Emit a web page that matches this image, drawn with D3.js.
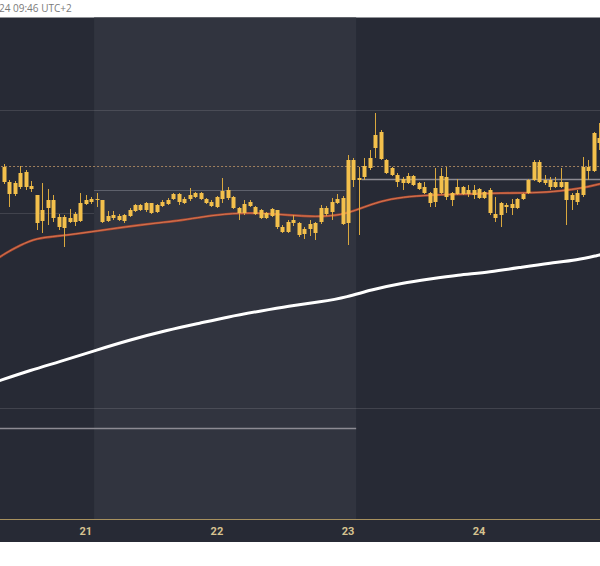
<!DOCTYPE html>
<html><head><meta charset="utf-8">
<script src="https://cdn.jsdelivr.net/npm/d3@7"></script>
<style>html,body{margin:0;padding:0;background:#fff;} svg{display:block}</style>
</head><body>
<script>
// ---- data (hourly candles, index 0 = 20th 09:00) ----
const opens  = [65520,65370,65250,65320,65470,65330,65240,64980,65110,65190,65020,64910,65010,64970,64980,65150,65200,65190,65190,64980,65040,65030,64980,65030,65080,65140,65090,65160,65070,65130,65150,65200,65250,65160,65200,65220,65260,65200,65170,65120,65200,65290,65220,65110,65060,65170,65120,65090,65010,65030,65090,64920,64870,64960,64960,64850,64900,64860,64970,65050,65070,65160,65210,64960,65590,65390,65420,65510,65710,65870,65590,65510,65440,65400,65360,65430,65360,65320,65260,65170,65260,65420,65190,65250,65320,65250,65290,65210,65270,65290,65050,65040,65140,65110,65110,65200,65260,65390,65570,65390,65320,65370,65320,65370,65190,65170,65240,65520,65480,65810];
const highs  = [65550,65390,65380,65530,65490,65380,65240,65360,65300,65240,65050,65040,65100,65070,65260,65240,65220,65260,65190,65080,65080,65050,65050,65110,65150,65150,65170,65160,65150,65190,65210,65260,65260,65220,65310,65270,65270,65210,65190,65230,65410,65320,65230,65120,65190,65190,65130,65100,65070,65110,65090,64940,64990,65040,64970,64920,64990,64970,65140,65130,65210,65250,65230,65640,65610,65520,65610,65690,66060,65890,65600,65520,65460,65420,65460,65440,65370,65370,65270,65510,65510,65520,65270,65400,65330,65340,65340,65310,65280,65310,65220,65170,65160,65200,65210,65260,65400,65590,65590,65440,65420,65420,65510,65370,65260,65290,65620,65590,65870,65960];
const lows   = [65350,65120,65230,65300,65290,65270,64890,64860,64940,64970,64890,64720,64960,64930,64970,65140,65150,65120,64960,64970,64990,64980,64960,65020,65070,65080,65070,65050,65060,65120,65140,65190,65140,65150,65180,65210,65190,65150,65120,65110,65160,65190,65100,64990,65040,65120,65040,65000,65000,65020,64900,64860,64860,64930,64820,64800,64830,64790,64950,65030,64990,65150,64940,64740,65320,64840,65390,65490,65610,65590,65450,65430,65320,65290,65350,65330,65290,65250,65120,65120,65250,65190,65130,65240,65240,65220,65200,65200,65200,65040,64970,64920,65060,65040,65100,65190,65250,65380,65360,65340,65290,65310,65310,64940,65090,65140,65220,65390,65470,65690];
const closes = [65370,65250,65360,65460,65320,65300,64960,65090,65190,65010,64920,65020,64970,65050,65160,65190,65170,65200,64970,65030,65010,64990,65040,65090,65140,65090,65160,65060,65140,65170,65190,65250,65170,65200,65240,65260,65200,65160,65130,65220,65280,65210,65110,65060,65150,65130,65050,65010,65060,65100,64920,64870,64970,64990,64840,64900,64950,64960,65110,65110,65170,65200,64950,65590,65390,65410,65530,65610,65840,65600,65460,65440,65370,65360,65430,65340,65300,65260,65160,65310,65430,65220,65260,65320,65250,65290,65240,65300,65210,65060,65010,65160,65120,65150,65200,65250,65390,65570,65370,65360,65390,65320,65370,65190,65240,65260,65520,65480,65860,65760];

// moving averages read at selected candle indices
const emaIdx  = [-1,0,3,6,10,13,17,22,28,33,36,42,47,52,57,62,65,69,73,78,85,91,97,102,106,109,110];
const emaVals = [64610,64650,64740,64810,64830,64850,64880,64920,64960,64990,65020,65060,65060,65040,65020,65040,65100,65180,65220,65240,65250,65260,65260,65280,65310,65350,65360];
const smaIdx  = [-1,5,10,17,23,30,36,41,47,52,58,63,67,73,78,83,89,95,100,105,109,110];
const smaVals = [63380,63490,63570,63690,63790,63890,63960,64020,64080,64130,64170,64220,64290,64360,64400,64440,64470,64520,64560,64590,64640,64650];

// horizontal price levels
const levelPrices = [66090, 65530, 65400, 65290, 65060, 63110, 62910];
const levelFrom   = [-2, -2, 65.5, 16.5, -2, -2, -2];
const levelTo     = [112, 112, 112, 62.5, 16.5, 112, 64.5];
const levelKind   = ["faint","dot","light","mid","faint","faint","light"];

const dayTicks = ["21","22","23","24"];
const sessionBand = [16.5, 64.5];

// ---- layout ----
const W = 600, H = 566;
const topY = 17.5, plotBottom = 519, axisBottom = 542;
const start = Date.UTC(2024, 3, 20, 9);
const t = i => new Date(start + i * 3600e3);

const x = d3.scaleUtc().domain([t(-0.73), t(109.16)]).range([0, W]);
const y = d3.scaleLinear().domain([62000, 67010]).range([plotBottom, 18]);

const svg = d3.select("body").append("svg").attr("width", W).attr("height", H);
svg.append("rect").attr("width", W).attr("height", H).attr("fill", "#ffffff");

svg.append("rect").attr("x", 0).attr("y", topY).attr("width", W).attr("height", axisBottom - topY).attr("fill", "#272a35");
svg.append("rect").attr("x", x(t(sessionBand[0]))).attr("y", topY)
  .attr("width", x(t(sessionBand[1])) - x(t(sessionBand[0]))).attr("height", plotBottom - topY)
  .attr("fill", "#31343f");

svg.append("text").attr("x", -1).attr("y", 12).attr("font-family", "Open Sans, sans-serif")
  .attr("font-size", 10).attr("fill", "#7a7a7a").text("24 09:46 UTC+2");

const g = svg.append("g");
g.append("clipPath").attr("id", "clip").append("rect").attr("x", 0).attr("y", topY).attr("width", W).attr("height", plotBottom - topY);
const plot = g.append("g").attr("clip-path", "url(#clip)");

const levelStyle = {
  faint: {c: "rgba(255,255,255,0.12)", w: 1, d: null},
  dot:   {c: "#a0805e", w: 1, d: "2,2"},
  light: {c: "#8d8b93", w: 1.5, d: null},
  mid:   {c: "#5e616c", w: 1, d: null}
};
levelPrices.forEach((p, k) => {
  const s = levelStyle[levelKind[k]];
  plot.append("line").attr("x1", x(t(levelFrom[k]))).attr("x2", x(t(levelTo[k])))
    .attr("y1", Math.round(y(p)) + 0.5).attr("y2", Math.round(y(p)) + 0.5)
    .attr("stroke", s.c).attr("stroke-width", s.w).attr("stroke-dasharray", s.d);
});

const line = d3.line().x(d => x(t(d[0]))).y(d => y(d[1])).curve(d3.curveBasis);
plot.append("path").datum(smaIdx.map((d, k) => [d, smaVals[k]])).attr("d", line)
  .attr("fill", "none").attr("stroke", "#ffffff").attr("stroke-width", 3);
plot.append("path").datum(emaIdx.map((d, k) => [d, emaVals[k]])).attr("d", line)
  .attr("fill", "none").attr("stroke", "#b04a30").attr("stroke-width", 2.4);
plot.append("path").datum(emaIdx.map((d, k) => [d, emaVals[k]])).attr("d", line)
  .attr("fill", "none").attr("stroke", "#d8805a").attr("stroke-width", 0.8);

const candles = opens.map((o, i) => ({i, o, h: highs[i], l: lows[i], c: closes[i]}));
const cg = plot.selectAll("g.c").data(candles).join("g").attr("class", "c");
cg.append("line").attr("x1", d => Math.round(x(t(d.i))) + 0.5).attr("x2", d => Math.round(x(t(d.i))) + 0.5)
  .attr("y1", d => y(d.h)).attr("y2", d => y(d.l)).attr("stroke", "#d9a83e").attr("stroke-width", 1);
cg.append("rect").attr("x", d => Math.round(x(t(d.i))) - 1.5).attr("width", 4)
  .attr("y", d => y(Math.max(d.o, d.c))).attr("height", d => Math.max(1, Math.abs(y(d.o) - y(d.c))))
  .attr("fill", "#f3c04c");

svg.append("line").attr("x1", 0).attr("x2", W).attr("y1", plotBottom + 0.5).attr("y2", plotBottom + 0.5)
  .attr("stroke", "#a8915e").attr("stroke-width", 1);
const tickDates = dayTicks.map((d, k) => new Date(Date.UTC(2024, 3, 21 + k)));
svg.selectAll("text.tick").data(tickDates).join("text").attr("class", "tick")
  .attr("x", d => x(d)).attr("y", 535).attr("text-anchor", "middle")
  .attr("font-family", "Roboto, sans-serif").attr("font-weight", "bold").attr("font-size", 11)
  .attr("fill", "#d6c290").text((d, k) => dayTicks[k]);
</script>
</body></html>
